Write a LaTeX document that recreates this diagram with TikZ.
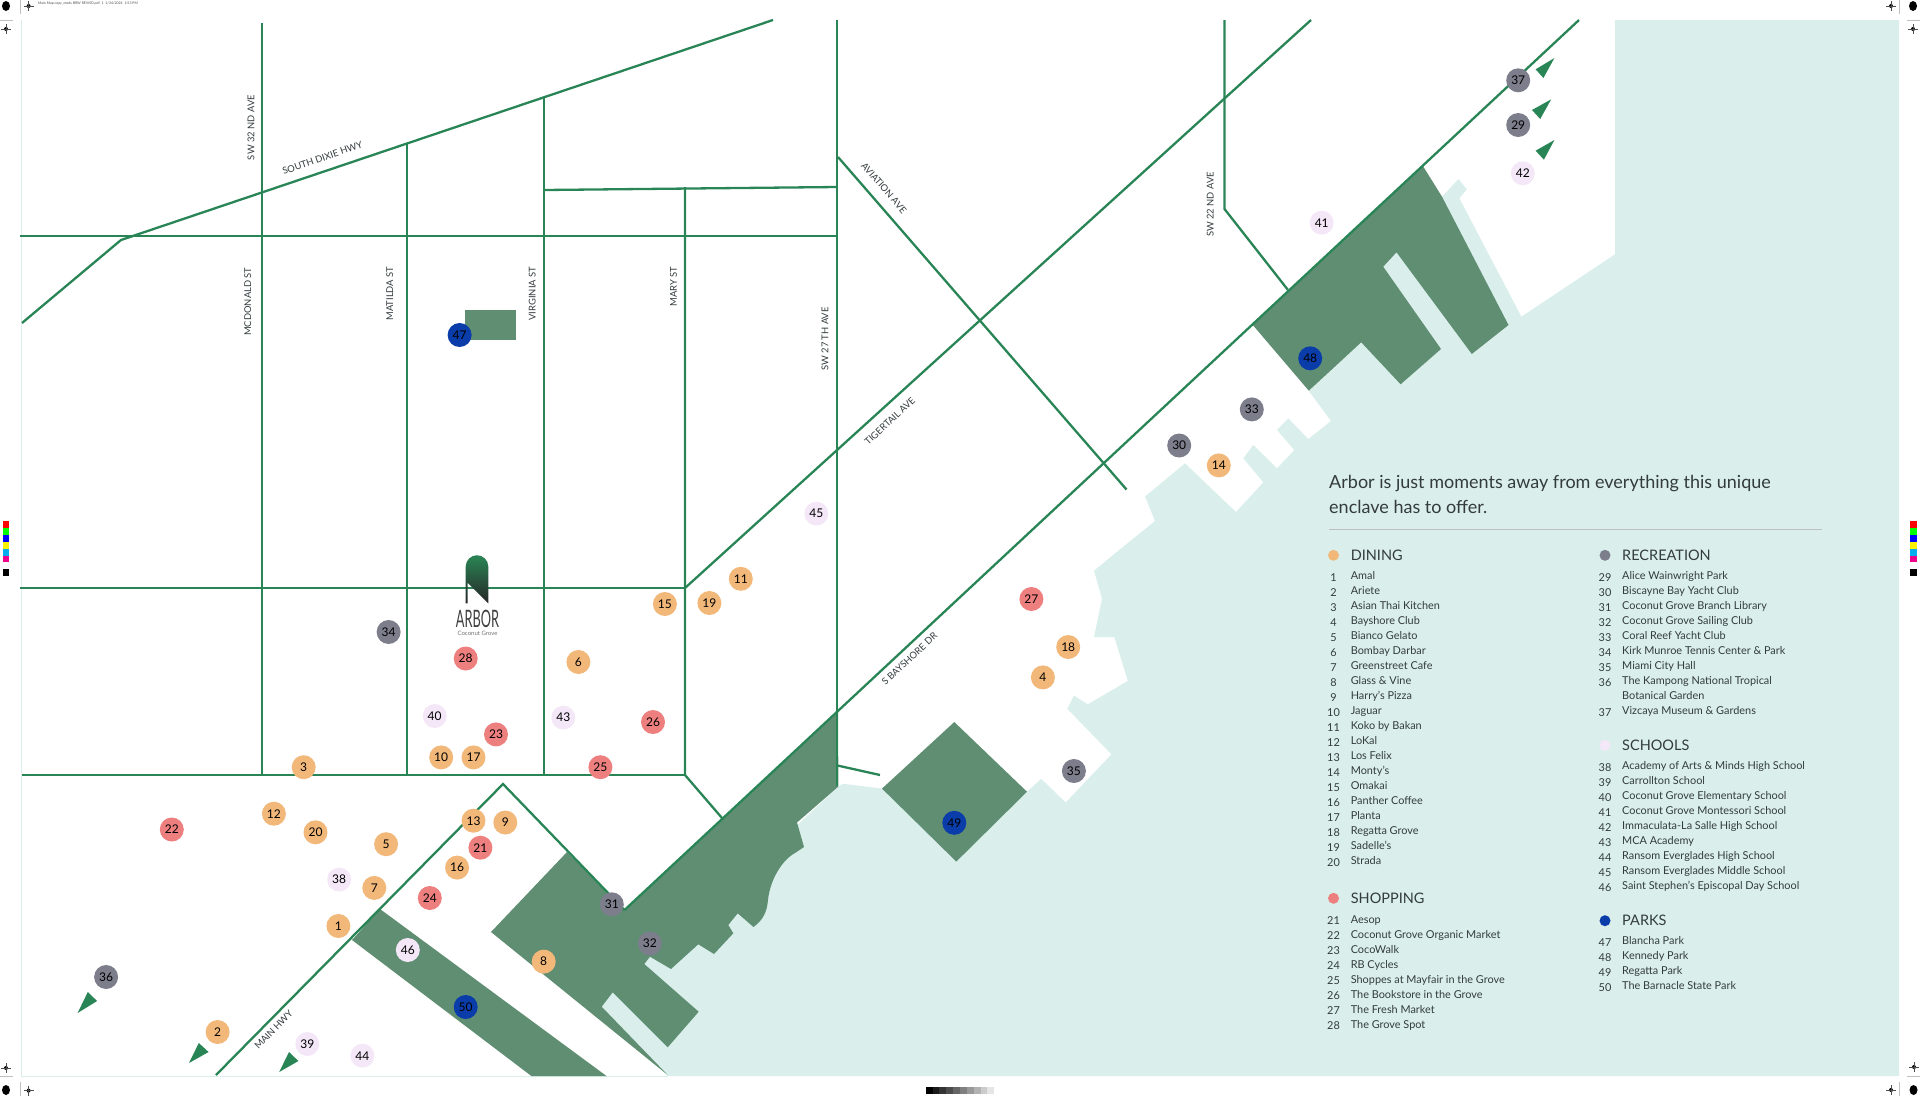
\documentclass[tikz,border=0pt]{standalone}
\usepackage{fontspec}
\setmainfont{Lato}
\usetikzlibrary{shapes.geometric,positioning}
\definecolor{roadcol}{HTML}{2A8556}
\definecolor{parkcol}{HTML}{5F8E72}
\definecolor{seacol}{HTML}{DAEFEB}
\definecolor{diningcol}{HTML}{F2B87A}
\definecolor{shopcol}{HTML}{EE7F7F}
\definecolor{reccol}{HTML}{7C7E8C}
\definecolor{schoolcol}{HTML}{F4E8F8}
\definecolor{parkdot}{HTML}{0A3DAA}
\definecolor{inkcol}{HTML}{333B3D}
\tikzset{
  road/.style={draw=roadcol,line width=2.3pt},
  park/.style={fill=parkcol},
  marker/.style={circle,minimum size=24pt,inner sep=0pt,font=\fontsize{12}{12}\selectfont,text=black},
  dining/.style={marker,fill=diningcol},
  shopping/.style={marker,fill=shopcol},
  recreation/.style={marker,fill=reccol},
  school/.style={marker,fill=schoolcol},
  parks/.style={marker,fill=parkdot},
  streetlabel/.style={font=\fontsize{9.4}{10}\selectfont,text=inkcol,inner sep=0pt},
  legdot/.style={circle,minimum size=11pt,inner sep=0pt},
  leghead/.style={anchor=west,inner sep=0pt,font=\fontsize{14.5}{15}\selectfont,text=inkcol,text height=10pt,text depth=0pt},
  legnum/.style={inner sep=0pt,font=\fontsize{10.9}{12}\selectfont,text=inkcol,text height=8.5pt,text depth=0pt,yshift=-0.8pt},
  legtxt/.style={anchor=west,inner sep=0pt,font=\fontsize{10.9}{12}\selectfont,text=inkcol,text height=8.5pt,text depth=2.5pt,yshift=-0.8pt},
  boat/.style={fill=roadcol},
  target/.style={circle,fill=black,minimum size=4pt,inner sep=0pt},
  regdot/.style={ellipse,fill=black,minimum width=8pt,minimum height=10pt,inner sep=0pt},
  cell/.style={minimum size=6.9pt,inner sep=0pt,draw=none}
}
\begin{document}
\begin{tikzpicture}[x=1pt,y=-1pt]
  \useasboundingbox (0,0) rectangle (1920,1096);

  % frame and water
  \draw[seacol,line width=1pt] (21,20) -- (21,1076) -- (668,1076);
  \fill[seacol] (1615,20) -- (1899,20) -- (1899,1076) -- (667.7,1076) -- (601.7,1006.7) -- (605,995) -- (640,950)
    -- (760,860) -- (838.4,786.5) -- (842.9,783.7) -- (882,788.6) -- (956.3,861.6) -- (1027,791.7) -- (1041.2,778.8)
    -- (1065.7,802.5) -- (1111.4,754.3) -- (1067.3,708.8) -- (1073.9,695.6) -- (1087.8,704.3) -- (1127.8,680.9)
    -- (1114.3,637) -- (1094,637) -- (1102,598.7) -- (1094,570.7) -- (1121.6,548) -- (1155,521) -- (1145,496.5)
    -- (1185,463.3) -- (1236,512) -- (1263.3,482.3) -- (1243.3,458.3) -- (1253.3,445) -- (1277,468.3) -- (1294.3,450)
    -- (1277,430) -- (1288.3,418.3) -- (1308.3,439) -- (1331,421) -- (1308.8,391) -- (1361.2,342.3) -- (1383.2,266.7)
    -- (1396.5,252.3) -- (1442,196.7) -- (1458.5,179) -- (1466.8,189.3) -- (1459.4,198.3) -- (1521.4,316.7)
    -- (1615,254.3) -- cycle;

  % parks
  \fill[park] (465,309.5) rectangle (516,340);
  \fill[park] (352,940) -- (380,909) -- (606.5,1076) -- (531.4,1076) -- cycle;
  \fill[park] (491,932) -- (567,852) -- (624.5,910) -- (838,712) -- (838.4,786.5) -- (797,822.5) -- (804,847)
    -- (795,853) .. controls (782,860) and (770,880) .. (768,900) .. controls (767,912) and (763,920) .. (753.5,927)
    -- (737.7,913.3) -- (728.3,925) -- (733.3,933.3) -- (714,954) -- (698.3,944.3) -- (671,969) -- (650,956.7)
    -- (644.3,964) -- (698.7,1011.7) -- (667.7,1047.3) -- (612.7,992.3) -- (601.7,1006.7) -- (667.7,1075) -- cycle;
  \fill[park] (954.3,722) -- (1027,791.7) -- (956.3,861.6) -- (882,788.6) -- cycle;
  \fill[park] (1252.8,325) -- (1422.7,165.7) -- (1442,196.7) -- (1508.5,325) -- (1471.8,354) -- (1396.5,252.3)
    -- (1383.2,266.7) -- (1441,349) -- (1400.6,384.3) -- (1361.2,342.3) -- (1308.8,390.7) -- cycle;

  % streets
  \draw[road] (262,23) -- (262,775);
  \draw[road] (407,143) -- (407,775);
  \draw[road] (544,97) -- (544,775);
  \draw[road] (685,187) -- (685,775) -- (722,818);
  \draw[road] (837,20) -- (837,786);
  \draw[road] (20,236) -- (837,236);
  \draw[road] (20,588) -- (685,588);
  \draw[road] (22,775) -- (685,775);
  \draw[road] (544,190) -- (837,187);
  \draw[road] (22,323) -- (121,240) -- (773,20);
  \draw[road] (685,588) -- (1311,20);
  \draw[road] (624.5,910) -- (1579,20);
  \draw[road] (216,1075) -- (503,784) -- (624.5,910);
  \draw[road] (838,157) -- (1126.5,489.5);
  \draw[road] (837.5,765.5) -- (880,775);
  \draw[road] (1224.5,20) -- (1224.5,209) -- (1288,290);

  % street names
  \node[streetlabel,rotate=90] (sw32) at (251,127.6) {SW 32 ND AVE};
  \node[streetlabel,rotate=90] (mcdonald) at (247.8,301.7) {MCDONALD ST};
  \node[streetlabel,rotate=90] (matilda) at (389.8,293.7) {MATILDA ST};
  \node[streetlabel,rotate=90] (virginia) at (532.2,293.7) {VIRGINIA ST};
  \node[streetlabel,rotate=90] (mary) at (673.5,286.7) {MARY ST};
  \node[streetlabel,rotate=90] (sw27) at (825,339) {SW 27 TH AVE};
  \node[streetlabel,rotate=90] (sw22) at (1210.2,204.5) {SW 22 ND AVE};
  \node[streetlabel,rotate=19] (dixie) at (322.4,158) {SOUTH DIXIE HWY};
  \node[streetlabel,rotate=-49] (aviation) at (884,188) {AVIATION AVE};
  \node[streetlabel,rotate=43] (tigertail) at (889.8,421) {TIGERTAIL AVE};
  \node[streetlabel,rotate=43] (bayshore) at (909.4,658.8) {S BAYSHORE DR};
  \node[streetlabel,rotate=46] (mainhwy) at (273.5,1029.5) {MAIN HWY};

  % off-map arrows
  \fill[boat] (77.6,1013) -- (87.8,992) -- (97.1,1001) -- cycle;
  \fill[boat] (189,1063) -- (198.8,1043) -- (208.6,1052) -- cycle;
  \fill[boat] (279.2,1072) -- (289,1052) -- (298.4,1061) -- cycle;
  \fill[boat] (1554.4,58) -- (1535.6,69.3) -- (1543.4,78) -- cycle;
  \fill[boat] (1551.2,99.3) -- (1532,110) -- (1540.2,119) -- cycle;
  \fill[boat] (1554.4,140) -- (1535.6,150.7) -- (1543.9,159.7) -- cycle;

  % map markers
  \foreach \n/\x/\y in {1/338.4/926,2/217.6/1032,3/303.7/767.2,4/1042.9/677.4,5/386.1/844.2,6/578.4/662,7/374.3/887.9,
      8/543.7/961.6,9/505.3/822.5,10/441.2/757.4,11/740.8/578.8,12/273.9/813.7,13/473.5/820.7,14/1218.8/465.4,15/664.9/604,
      16/457.1/867.6,17/473.5/757.4,18/1068.2/647,19/709.4/603,20/315.5/832.3}
    \node[dining] (m\n) at (\x,\y) {\n};
  \foreach \n/\x/\y in {21/480.4/847.7,22/171.8/829.5,23/496/734.4,24/429.8/898,25/600.4/767.2,26/653/722,27/1031.4/599,28/465.7/658.5}
    \node[shopping] (m\n) at (\x,\y) {\n};
  \foreach \n/\x/\y in {29/1518.2/125,30/1179.2/445.5,31/611.8/904.3,32/649.8/943.5,33/1251.8/409.4,34/388.6/632,35/1073.9/771,36/106.1/977,37/1518.2/80.3}
    \node[recreation] (m\n) at (\x,\y) {\n};
  \foreach \n/\x/\y in {38/339.2/879.5,39/307.3/1044,40/434.7/716,41/1321.7/222.7,42/1522.8/173.3,43/563.3/717.6,44/362.4/1055.7,45/816.3/513.6,46/407.8/950}
    \node[school] (m\n) at (\x,\y) {\n};
  \foreach \n/\x/\y in {47/459.6/335,48/1310.2/358.3,49/954.3/822.8,50/465.7/1007}
    \node[parks] (m\n) at (\x,\y) {\n};

  % logo
  \shade[top color=roadcol,bottom color=black!85] (465.7,603.3) -- (465.7,566.5) arc (180:360:11.3) -- (488.3,603.3) -- (467.7,582.7) -- (467.7,603.3) -- cycle;
  \node[inner sep=0pt,font=\fontsize{16}{16}\selectfont,text=black!75] (arbor) at (477.5,618.5) {\scalebox{.8}[1.5]{ARBOR}};
  \node[inner sep=0pt,font=\fontsize{6}{7}\selectfont,text=black!55,below=3pt of arbor.south] (grove) {Coconut Grove};

  % legend
  \node[anchor=west,inner sep=0pt,font=\fontsize{18}{18}\selectfont,text=inkcol] (intro1) at (1329,484) {Arbor is just moments away from everything this unique};
  \node[anchor=west,inner sep=0pt,font=\fontsize{18}{18}\selectfont,text=inkcol] (intro2) at (1329,506.7) {enclave has to offer.};
  \draw[black!25,line width=0.8pt] (1329,529.3) -- (1821.6,529.3);

  \node[legdot,fill=diningcol] (d1) at (1333.5,555.3) {};
  \node[leghead] (h1) at (1350.6,555.3) {DINING};
  \foreach \n/\t [count=\i from 0] in {1/Amal,2/Ariete,3/Asian Thai Kitchen,4/Bayshore Club,5/Bianco Gelato,6/Bombay Darbar,
      7/Greenstreet Cafe,8/Glass \& Vine,9/Harry’s Pizza,10/Jaguar,11/Koko by Bakan,12/LoKal,13/Los Felix,14/Monty’s,15/Omakai,
      16/Panther Coffee,17/Planta,18/Regatta Grove,19/Sadelle’s,20/Strada}{
    \node[legnum] (n\n) at (1333.5,{576+15*\i}) {\n};
    \node[legtxt] (t\n) at (1350.6,{576+15*\i}) {\t};
  }
  \node[legdot,fill=shopcol] (d2) at (1333.5,898.3) {};
  \node[leghead] (h2) at (1350.6,898.3) {SHOPPING};
  \foreach \n/\t [count=\i from 0] in {21/Aesop,22/Coconut Grove Organic Market,23/CocoWalk,24/RB Cycles,25/Shoppes at Mayfair in the Grove,
      26/The Bookstore in the Grove,27/The Fresh Market,28/The Grove Spot}{
    \node[legnum] (n\n) at (1333.5,{919.3+15*\i}) {\n};
    \node[legtxt] (t\n) at (1350.6,{919.3+15*\i}) {\t};
  }
  \node[legdot,fill=reccol] (d3) at (1605,555.3) {};
  \node[leghead] (h3) at (1622,555.3) {RECREATION};
  \foreach \n/\t [count=\i from 0] in {29/Alice Wainwright Park,30/Biscayne Bay Yacht Club,31/Coconut Grove Branch Library,32/Coconut Grove Sailing Club,
      33/Coral Reef Yacht Club,34/Kirk Munroe Tennis Center \& Park,35/Miami City Hall,36/The Kampong National Tropical}{
    \node[legnum] (n\n) at (1605,{576+15*\i}) {\n};
    \node[legtxt] (t\n) at (1622,{576+15*\i}) {\t};
  }
  \node[legtxt] (t36b) at (1622,696) {Botanical Garden};
  \node[legnum] (n37) at (1605,711) {37};
  \node[legtxt] (t37) at (1622,711) {Vizcaya Museum \& Gardens};
  \node[legdot,fill=schoolcol] (d4) at (1605,745.3) {};
  \node[leghead] (h4) at (1622,745.3) {SCHOOLS};
  \foreach \n/\t [count=\i from 0] in {38/Academy of Arts \& Minds High School,39/Carrollton School,40/Coconut Grove Elementary School,41/Coconut Grove Montessori School,
      42/Immaculata-La Salle High School,43/MCA Academy,44/Ransom Everglades High School,45/Ransom Everglades Middle School,46/Saint Stephen’s Episcopal Day School}{
    \node[legnum] (n\n) at (1605,{766+15*\i}) {\n};
    \node[legtxt] (t\n) at (1622,{766+15*\i}) {\t};
  }
  \node[legdot,fill=parkdot] (d5) at (1605,920.7) {};
  \node[leghead] (h5) at (1622,920.7) {PARKS};
  \foreach \n/\t [count=\i from 0] in {47/Blancha Park,48/Kennedy Park,49/Regatta Park,50/The Barnacle State Park}{
    \node[legnum] (n\n) at (1605,{941+15*\i}) {\n};
    \node[legtxt] (t\n) at (1622,{941+15*\i}) {\t};
  }

  % printer marks
  \node[anchor=west,inner sep=0pt,font=\fontsize{3.5}{4}\selectfont,text=black!70] (slug) at (38,4) {Main Map copy\_mods BRW REVISD.pdf \ 1 \ 1/24/2024 \ 1:53 PM};
  \foreach \x/\y in {28.6/6,6/29,1891/6,1913/29,6/1068,28.6/1090.6,1914/1067,1891/1090}{
    \node[target] at (\x,\y) {};
    \draw[black!70,line width=0.3pt] (\x-5,\y) -- (\x+5,\y) (\x,\y-5) -- (\x,\y+5);
  }
  \foreach \x/\y in {6/6,1913/6,6/1090,1913.5/1090}
    \node[regdot] at (\x,\y) {};
  \draw[black!25,line width=0.4pt] (20,0) -- (20,14) (0,20) -- (13,20) (1899,0) -- (1899,14) (1907,20) -- (1920,20)
    (20,1082) -- (20,1096) (0,1076) -- (13,1076) (1899,1082) -- (1899,1096) (1907,1076) -- (1920,1076);
  \foreach \c [count=\i from 0] in {red,green,blue,yellow,cyan,magenta,white,black}{
    \node[cell,fill=\c] at (6,{524.5+6.9*\i}) {};
    \node[cell,fill=\c] at (1913.8,{524.5+6.9*\i}) {};
  }
  \foreach \g [count=\i from 0] in {100,90,80,70,60,50,40,30,20,10}
    \fill[black!\g] ({925.7+6.86*\i},1087) rectangle +(6.86,7);
\end{tikzpicture}
\end{document}
